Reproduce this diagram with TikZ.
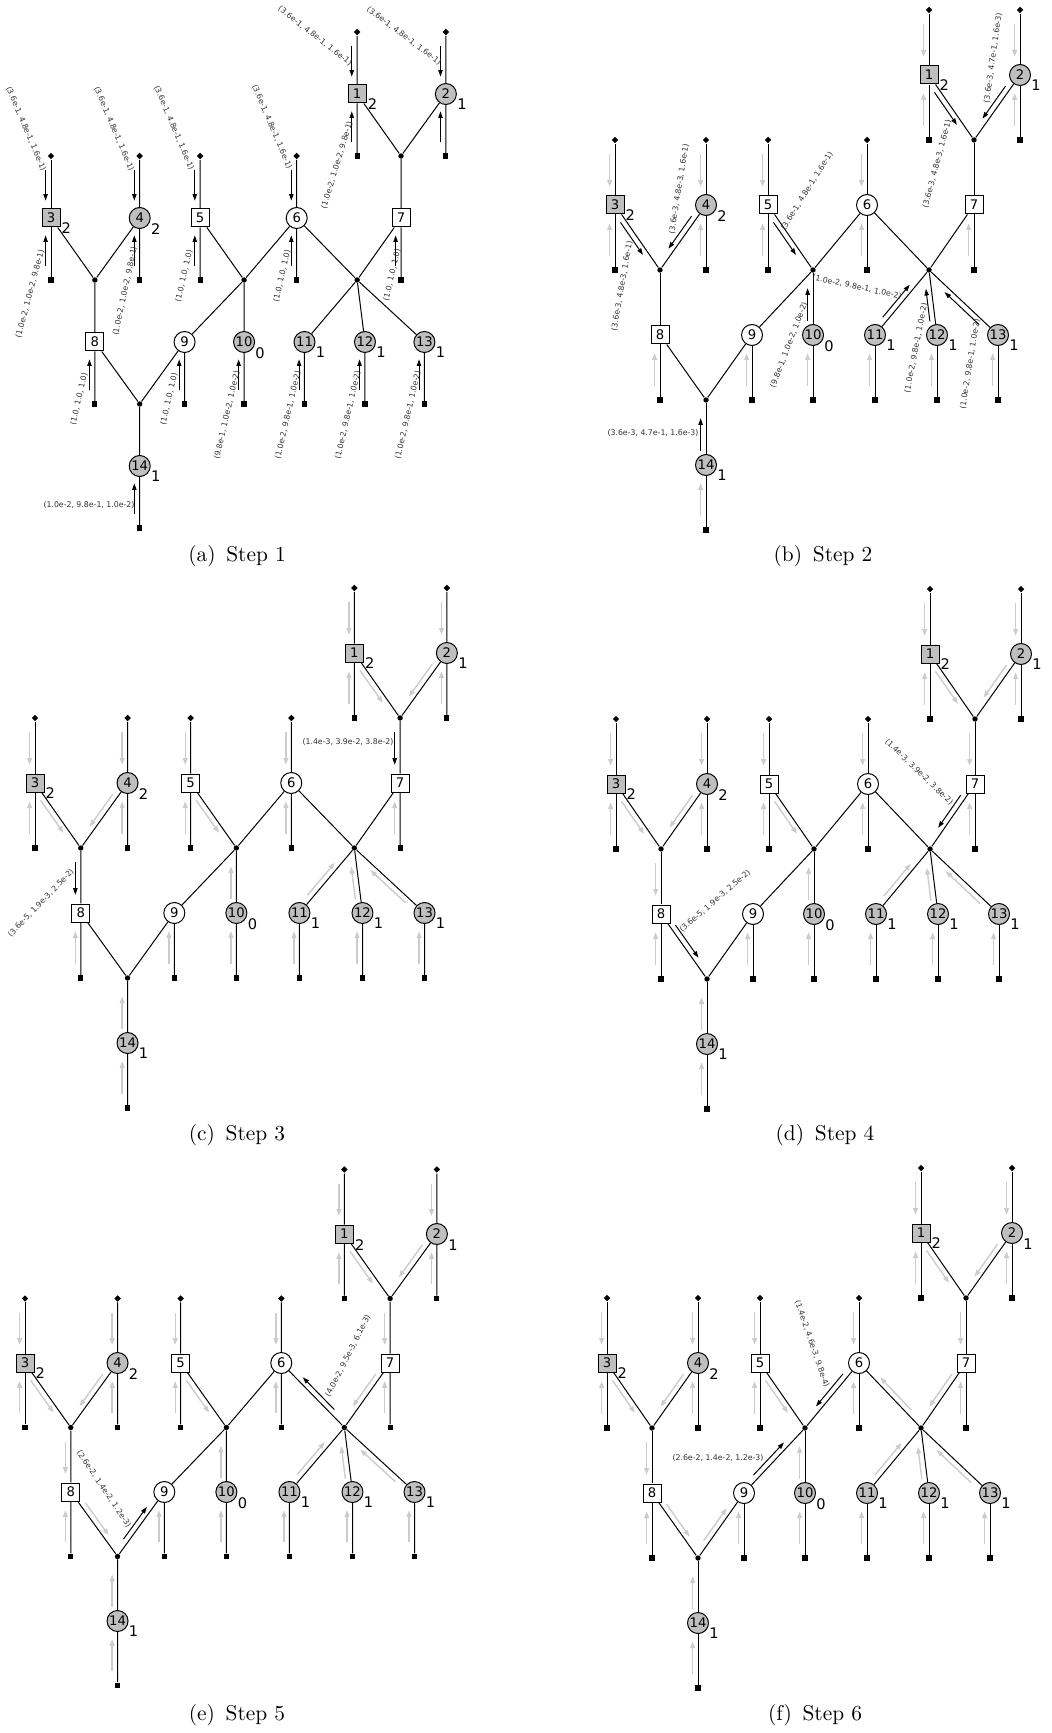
\documentclass[tikz,border=0pt]{standalone}
\usepackage{fontspec}
\newfontfamily\dejavu{DejaVu Sans}
\usetikzlibrary{calc,shapes.geometric,arrows.meta}

\tikzset{
  varsq/.style={draw, line width=0.5pt, minimum size=9pt, inner sep=0pt, fill=white,
    label distance=0.9pt, font=\dejavu\fontsize{6.6}{7}\selectfont},
  varci/.style={varsq, circle, minimum size=10.5pt},
  shaded/.style={fill=black!25},
  cnt/.style={inner sep=0.4pt, font=\dejavu\fontsize{7.3}{8}\selectfont},
  obs/.style={diamond, fill=black, minimum size=3.4pt, inner sep=0pt},
  prior/.style={rectangle, fill=black, minimum size=2.6pt, inner sep=0pt},
  fac/.style={circle, fill=black, minimum size=2.7pt, inner sep=0pt},
  link/.style={line width=0.5pt},
  newmsg/.style={line width=0.5pt, -{Triangle[length=3.3pt,width=2.2pt]}},
  oldmsg/.style={line width=0.7pt, black!20, -{Triangle[length=3.4pt,width=2.4pt]}},
  msglbl/.style={inner sep=0pt, text=black!80, font=\dejavu\fontsize{3.9}{4}\selectfont},
  subcap/.style={inner sep=0pt, font=\fontsize{10.7}{13}\selectfont}
}

% message arrow beside an edge: [style]{panel}{from}{to}{side}
\newcommand{\msgarrow}[5][newmsg]{%
  \draw[#1] ($(#2#3.center)!0.22!(#2#4.center)!2.7pt!#5:(#2#4.center)$)
    -- ($(#2#3.center)!0.72!(#2#4.center)!2.7pt!#5:(#2#4.center)$);}

\newcommand{\factorgraph}[1]{%
  \foreach \i/\x/\y/\s/\c in {1/314/-2/varsq/2, 2/405/-2/varci/1, 3/0/0/varsq/2, 4/91/0/varci/2,
      10/198/2/varci/0, 11/260/2/varci/1, 12/322/2/varci/1, 13/383/2/varci/1, 14/91/4/varci/1}
    \node[\s, shaded, label={[cnt]-22:\c}] (#1n\i) at (\x,\y) {\i};
  \foreach \i/\x/\y/\s in {5/153/0/varsq, 6/252/0/varci, 7/359/0/varsq, 8/45/2/varsq, 9/137/2/varci}
    \node[\s] (#1n\i) at (\x,\y) {\i};
  \foreach \i/\x/\y in {1/314/-3, 2/405/-3, 3/0/-1, 4/91/-1, 5/153/-1, 6/252/-1}
    \node[obs] (#1d\i) at (\x,\y) {};
  \foreach \i/\x/\y in {1/314/-1, 2/405/-1, 3/0/1, 4/91/1, 5/153/1, 6/252/1, 7/359/1,
      8/45/3, 9/137/3, 10/198/3, 11/260/3, 12/322/3, 13/383/3, 14/91/5}
    \node[prior] (#1s\i) at (\x,\y) {};
  \foreach \i/\x/\y in {1/359/-1, 2/45/1, 3/198/1, 4/314/1, 5/91/3}
    \node[fac] (#1j\i) at (\x,\y) {};
  \foreach \i in {1,...,6}
    \draw[link] (#1d\i) -- (#1n\i);
  \foreach \i in {1,...,14}
    \draw[link] (#1n\i) -- (#1s\i);
  \foreach \a/\b in {n1/j1, n2/j1, j1/n7, n3/j2, n4/j2, j2/n8, n5/j3, n6/j3, j3/n9, j3/n10,
      n6/j4, n7/j4, j4/n11, j4/n12, j4/n13, n8/j5, n9/j5, j5/n14}
    \draw[link] (#1\a) -- (#1\b);
}

\newcommand{\msgsone}[2]{%
  \foreach \i in {1,...,6} {\msgarrow[#2]{#1}{d\i}{n\i}{-90}}
  \foreach \i in {1,...,14} {\msgarrow[#2]{#1}{s\i}{n\i}{90}}}
\newcommand{\msgstwo}[2]{%
  \foreach \a/\b/\r in {n1/j1/-90, n2/j1/-90, n3/j2/-90, n4/j2/-90, n5/j3/-90,
      n10/j3/90, n11/j4/90, n12/j4/90, n13/j4/90, n14/j5/90}
    {\msgarrow[#2]{#1}{\a}{\b}{\r}}}
\newcommand{\msgsthree}[2]{%
  \msgarrow[#2]{#1}{j1}{n7}{-90}
  \msgarrow[#2]{#1}{j2}{n8}{-90}}
\newcommand{\msgsfour}[2]{%
  \msgarrow[#2]{#1}{n7}{j4}{-90}
  \msgarrow[#2]{#1}{n8}{j5}{90}}
\newcommand{\msgsfive}[2]{%
  \msgarrow[#2]{#1}{j4}{n6}{-90}
  \msgarrow[#2]{#1}{j5}{n9}{90}}
\newcommand{\msgssix}[2]{%
  \msgarrow[#2]{#1}{n6}{j3}{-90}
  \msgarrow[#2]{#1}{n9}{j3}{90}}

\begin{document}
\begin{tikzpicture}[x=0.5pt,y=-0.5pt]
\useasboundingbox (0,0) rectangle (1051,1733);

% (a) Step 1
\begin{scope}[shift={(51,218)},xscale=0.975,yscale=62]
  \factorgraph{a}
\end{scope}
\msgsone{a}{newmsg}
\node[msglbl,rotate=-38] (lat1) at (315,36) {(3.6e-1, 4.8e-1, 1.6e-1)};
\node[msglbl,rotate=-37] (lat2) at (404,36) {(3.6e-1, 4.8e-1, 1.6e-1)};
\foreach \i/\x/\y in {3/26/129, 4/114/129, 5/174/128, 6/272/127}
  \node[msglbl,rotate=-67] (lat\i) at (\x,\y) {(3.6e-1, 4.8e-1, 1.6e-1)};
\node[msglbl,rotate=73] (lab1) at (337,165) {(1.0e-2, 1.0e-2, 9.8e-1)};
\node[msglbl,rotate=75] (lab3) at (30,294) {(1.0e-2, 1.0e-2, 9.8e-1)};
\node[msglbl,rotate=78] (lab4) at (125,291) {(1.0e-2, 1.0e-2, 9.8e-1)};
\foreach \i/\x/\y in {5/184/276, 6/282/276, 7/392/275, 8/79/399, 9/169/399}
  \node[msglbl,rotate=77] (lab\i) at (\x,\y) {(1.0, 1.0, 1.0)};
\node[msglbl,rotate=77] (lab10) at (227,415) {(9.8e-1, 1.0e-2, 1.0e-2)};
\foreach \i/\x in {11/288, 12/348, 13/408}
  \node[msglbl,rotate=77] (lab\i) at (\x,415) {(1.0e-2, 9.8e-1, 1.0e-2)};
\node[msglbl] (lab14) at (89,505) {(1.0e-2, 9.8e-1, 1.0e-2)};
\node[subcap] (capa) at (237,556) {(a)\enspace Step 1};

% (b) Step 2
\begin{scope}[shift={(615,205)},yscale=65]
  \factorgraph{b}
\end{scope}
\msgsone{b}{oldmsg}
\msgstwo{b}{newmsg}
\node[msglbl,rotate=80] (lb3) at (622,286) {(3.6e-3, 4.8e-3, 1.6e-1)};
\node[msglbl,rotate=81] (lb4) at (679,189) {(3.6e-3, 4.8e-3, 1.6e-1)};
\node[msglbl,rotate=58] (lb5) at (807,191) {(3.6e-1, 4.8e-1, 1.6e-1)};
\node[msglbl,rotate=75] (lb1) at (937,164) {(3.6e-3, 4.8e-3, 1.6e-1)};
\node[msglbl,rotate=82] (lb2) at (993,58) {(3.6e-3, 4.7e-1, 1.6e-3)};
\node[msglbl,rotate=69] (lb10) at (789,345) {(9.8e-1, 1.0e-2, 1.0e-2)};
\node[msglbl,rotate=-12] (lb11) at (857,287) {(1.0e-2, 9.8e-1, 1.0e-2)};
\node[msglbl,rotate=79] (lb12) at (916,348) {(1.0e-2, 9.8e-1, 1.0e-2)};
\node[msglbl,rotate=81] (lb13) at (970,364) {(1.0e-2, 9.8e-1, 1.0e-2)};
\node[msglbl] (lb14) at (653,433) {(3.6e-3, 4.7e-1, 1.6e-3)};
\node[subcap] (capb) at (823,556) {(b)\enspace Step 2};

% (c) Step 3
\begin{scope}[shift={(35,783)},xscale=1.017,yscale=65]
  \factorgraph{c}
\end{scope}
\msgsone{c}{oldmsg}
\msgstwo{c}{oldmsg}
\msgsthree{c}{newmsg}
\node[msglbl] (lc7) at (348,742) {(1.4e-3, 3.9e-2, 3.8e-2)};
\node[msglbl,rotate=46] (lc8) at (41,903) {(3.6e-5, 1.9e-3, 2.5e-2)};
\node[subcap] (capc) at (237,1135) {(c)\enspace Step 3};

% (d) Step 4
\begin{scope}[shift={(616,784)},yscale=65]
  \factorgraph{d}
\end{scope}
\msgsone{d}{oldmsg}
\msgstwo{d}{oldmsg}
\msgsthree{d}{oldmsg}
\msgsfour{d}{newmsg}
\node[msglbl,rotate=-44] (ld7) at (919,772) {(1.4e-3, 3.9e-2, 3.8e-2)};
\node[msglbl,rotate=41] (ld8) at (715,901) {(3.6e-5, 1.9e-3, 2.5e-2)};
\node[subcap] (capd) at (825,1135) {(d)\enspace Step 4};

% (e) Step 5
\begin{scope}[shift={(25,1363)},xscale=1.017,yscale=64.5]
  \factorgraph{e}
\end{scope}
\msgsone{e}{oldmsg}
\msgstwo{e}{oldmsg}
\msgsthree{e}{oldmsg}
\msgsfour{e}{oldmsg}
\msgsfive{e}{newmsg}
\node[msglbl,rotate=63] (le6) at (348,1356) {(4.0e-2, 9.5e-3, 6.1e-3)};
\node[msglbl,rotate=-56] (le9) at (104,1489) {(2.6e-2, 1.4e-2, 1.2e-3)};
\node[subcap] (cape) at (237,1715) {(e)\enspace Step 5};

% (f) Step 6
\begin{scope}[shift={(607,1363)},yscale=65]
  \factorgraph{f}
\end{scope}
\msgsone{f}{oldmsg}
\msgstwo{f}{oldmsg}
\msgsthree{f}{oldmsg}
\msgsfour{f}{oldmsg}
\msgsfive{f}{oldmsg}
\msgssix{f}{newmsg}
\node[msglbl,rotate=-71] (lf6) at (812,1344) {(1.4e-2, 4.6e-3, 9.8e-4)};
\node[msglbl] (lf9) at (718,1458) {(2.6e-2, 1.4e-2, 1.2e-3)};
\node[subcap] (capf) at (815,1715) {(f)\enspace Step 6};
\end{tikzpicture}
\end{document}
